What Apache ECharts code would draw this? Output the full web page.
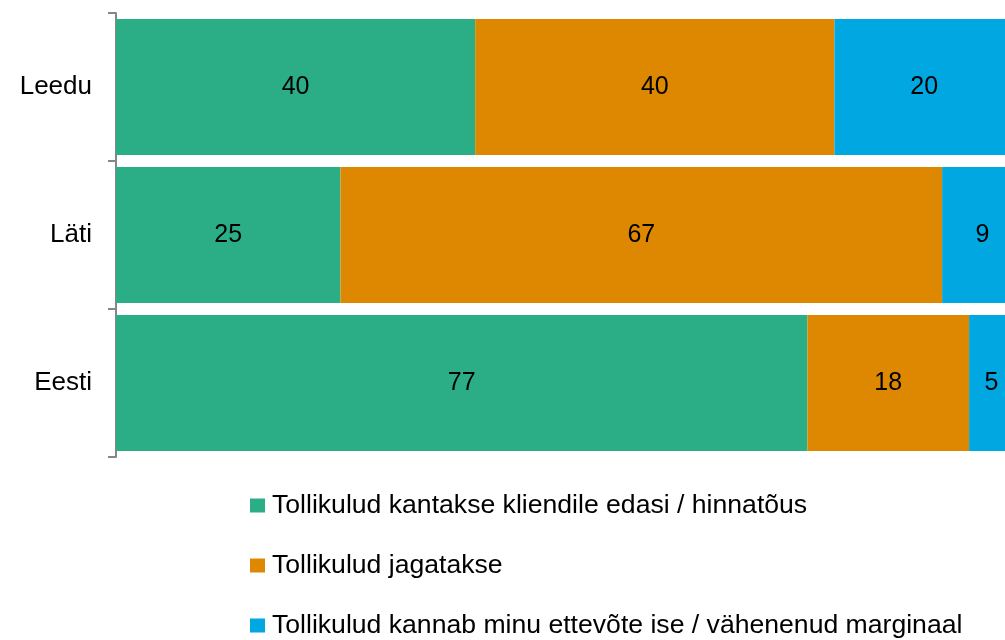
<!DOCTYPE html>
<html>
<head>
<meta charset="utf-8">
<script src="https://cdn.jsdelivr.net/npm/echarts@6/dist/echarts.min.js"></script>
<style>
  html, body { margin: 0; padding: 0; background: #fff; }
  #chart { width: 1005px; height: 640px; }
</style>
</head>
<body>
<div id="chart"></div>
<script>
// riigid (ülevalt alla)
var countries = ['Leedu', 'Läti', 'Eesti'];
var seriesNames = [
  'Tollikulud kantakse kliendile edasi / hinnatõus',
  'Tollikulud jagatakse',
  'Tollikulud kannab minu ettevõte ise / vähenenud marginaal'
];
var passOn = [40, 25, 77];
var shared = [40, 67, 18];
var absorbed = [20, 9, 5];
var colors = ['#2bae86', '#dd8800', '#00a7e1'];

var chart = echarts.init(document.getElementById('chart'));

function makeSeries(name, data, color) {
  return {
    name: name,
    type: 'bar',
    stack: 'total',
    data: data,
    clip: false, // originaal on paremalt ära lõigatud
    barCategoryGap: '8%',
    itemStyle: { color: color },
    label: {
      show: true,
      position: 'inside',
      color: '#000',
      fontFamily: 'Liberation Sans, Arial',
      fontSize: 25
    }
  };
}

var option = {
  animation: false,
  color: colors,
  grid: { left: 116, right: 0, top: 13, bottom: 183, outerBoundsMode: 'none' },
  xAxis: {
    type: 'value',
    min: 0,
    max: 99,
    show: false
  },
  yAxis: {
    type: 'category',
    inverse: true,
    data: countries,
    axisLine: { show: true, lineStyle: { color: '#868686', width: 2 } },
    axisTick: { show: true, length: 8, lineStyle: { color: '#868686', width: 2 } },
    axisLabel: {
      color: '#000',
      fontFamily: 'Liberation Sans, Arial',
      fontSize: 26,
      margin: 24
    }
  },
  legend: {
    orient: 'vertical',
    left: 250,
    top: 492,
    height: 160,
    padding: 0,
    itemWidth: 15,
    itemHeight: 14,
    itemGap: 33,
    icon: 'rect',
    textStyle: {
      color: '#000',
      fontFamily: 'Liberation Sans, Arial',
      fontSize: 26.6,
      lineHeight: 24,
      padding: [0, 0, 0, 2]
    },
    data: seriesNames
  },
  series: [
    makeSeries(seriesNames[0], passOn, colors[0]),
    makeSeries(seriesNames[1], shared, colors[1]),
    makeSeries(seriesNames[2], absorbed, colors[2])
  ]
};

chart.setOption(option);
</script>
</body>
</html>
